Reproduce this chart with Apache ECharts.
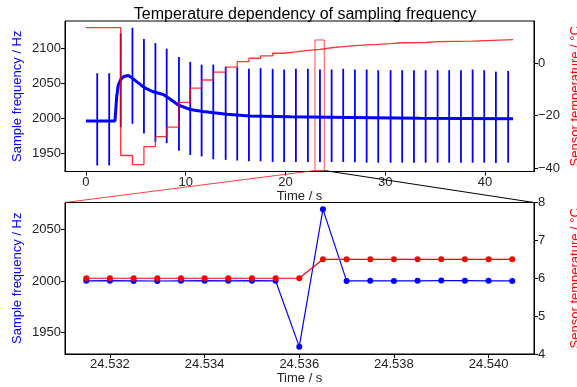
<!DOCTYPE html>
<html>
<head>
<meta charset="utf-8">
<script src="https://cdn.jsdelivr.net/npm/echarts@6/dist/echarts.min.js"></script>
<style>
  html, body { margin: 0; padding: 0; background: #fff; }
  #chart { width: 577px; height: 387px; }
</style>
</head>
<body>
<div id="chart"></div>
<script>
// ---- top panel: full run ----
const baseTimes = [0, 2.91, 3.08, 3.24, 3.51, 3.81, 4.24, 4.61, 5.08, 5.91, 6.74, 7.75, 8.42, 9.25, 10.42, 11.75, 14.1, 16.43, 20.44, 26.45, 33.47, 42.8];
const baseFreq = [1996.1, 1996, 2031, 2048, 2056, 2060, 2061.5, 2058, 2052.6, 2043.5, 2038, 2034, 2027.7, 2019, 2012.6, 2009.5, 2005.7, 2003.3, 2002, 2001, 2000, 1999.3];

const spikeTimes = [1.13, 2.33, 3.48, 4.66, 5.81, 6.96, 8.09, 9.32, 10.45, 11.59, 12.76, 14.0, 15.16, 16.33, 17.5, 18.71, 19.86, 21.04, 22.24, 23.45, 24.62, 25.78, 26.95, 28.13, 29.29, 30.53, 31.69, 32.87, 34.04, 35.24, 36.4, 37.58, 38.75, 39.91, 41.08, 42.31];
const spikeHigh = [2064.7, 2064.7, 2122, 2130, 2114, 2108, 2100, 2088, 2081, 2077, 2077, 2074, 2073, 2071, 2072, 2071, 2070, 2071, 2071, 2070, 2070, 2071, 2070, 2070, 2069, 2069, 2069, 2069, 2069, 2069, 2069, 2069, 2070, 2069, 2067, 2068];
const spikeLow = [1931.9, 1931.9, 1987, 1992, 1978, 1966, 1964, 1953, 1947, 1945, 1941, 1940, 1939, 1938, 1938, 1937, 1937, 1937, 1937, 1937, 1937, 1937, 1936.5, 1936, 1936, 1936, 1936, 1936, 1936, 1936, 1936, 1936, 1936, 1936, 1935.5, 1936];

const tempTimes = [0, 3.48, 4.66, 5.81, 6.96, 8.09, 9.32, 10.45, 11.59, 12.76, 14.0, 15.16, 16.33, 17.5, 18.71, 19.86, 21.04, 22.24, 23.45, 24.62, 25.78, 26.95, 28.13, 29.29, 30.53, 31.69, 34.04, 35.24, 38.75, 42.8];
const tempValues = [13.6, -35.2, -38.7, -31.8, -28.0, -24.4, -14.9, -9.5, -6.4, -3.4, -1.5, 0.6, 1.9, 2.8, 3.8, 4.3, 4.9, 5.3, 5.9, 6.3, 6.7, 7.0, 7.2, 7.5, 7.8, 7.9, 8.2, 8.4, 9.0, 9.0];

const boxTime = [22.95, 23.88];
const boxFreq = [1924.7, 2112.5];

const topTimeTicks = [0, 10, 20, 30, 40];
const topFreqTicks = [1950, 2000, 2050, 2100];
const topTempTicks = [-40, -20, 0];

// ---- bottom panel: zoom into one step ----
const zoomTimes = [24.5315, 24.532, 24.5325, 24.533, 24.5335, 24.534, 24.5345, 24.535, 24.5355, 24.536, 24.5365, 24.537, 24.5375, 24.538, 24.5385, 24.539, 24.5395, 24.54, 24.5405];
const zoomFreq = [2000.3, 2000.4, 2000.2, 2000.1, 2000.3, 2000.4, 2000.3, 2000.4, 2000.3, 1936.5, 2069.5, 2000.2, 2000.3, 2000.2, 2000.3, 2000.5, 2000.4, 2000.3, 2000.2];
const zoomTemp = [6, 6, 6, 6, 6, 6, 6, 6, 6, 6, 6.5, 6.5, 6.5, 6.5, 6.5, 6.5, 6.5, 6.5, 6.5];

const zoomTimeTicks = [24.532, 24.534, 24.536, 24.538, 24.540];
const zoomFreqTicks = [1950, 2000, 2050];
const zoomTempTicks = [4, 5, 6, 7, 8];

const FONT = 'Liberation Sans, Arial, sans-serif';
const BLUE = '#0000ff';
const RED = '#ff0000';
const minus = v => String(v).replace('-', '\u2212');

const chart = echarts.init(document.getElementById('chart'), null, { renderer: 'canvas' });

function axisBase(ticks, fmt) {
  return {
    nameMoveOverlap: false,
    axisLine: { show: true, onZero: false, lineStyle: { color: '#000', width: 1 } },
    axisTick: { show: true, inside: false, length: 4, lineStyle: { color: '#000' }, customValues: ticks },
    axisLabel: { color: '#222', fontSize: 13, fontFamily: FONT, margin: 4, customValues: ticks, formatter: fmt || (v => minus(v)) },
    splitLine: { show: false },
    nameTextStyle: { fontSize: 13, fontFamily: FONT }
  };
}

const option = {
  animation: false,
  backgroundColor: '#fff',
  title: {
    text: 'Temperature dependency of sampling frequency',
    left: 300, top: 2, textAlign: 'center',
    textStyle: { fontSize: 16, fontWeight: 'normal', color: '#000', fontFamily: FONT }
  },
  grid: [
    { left: 65, right: 43, top: 21, height: 150.5, show: true, borderColor: '#000', borderWidth: 1, outerBoundsMode: 'none' },
    { left: 65, right: 43, top: 202.5, height: 151.5, show: true, borderColor: '#000', borderWidth: 1, outerBoundsMode: 'none' }
  ],
  xAxis: [
    Object.assign(axisBase(topTimeTicks), {
      type: 'value', gridIndex: 0, min: -2.1, max: 44.9,
      name: 'Time / s', nameLocation: 'middle', nameGap: 18,
      nameTextStyle: { fontSize: 13, fontFamily: FONT, color: '#222' }
    }),
    Object.assign(axisBase(zoomTimeTicks, v => v.toFixed(3)), {
      type: 'value', gridIndex: 1, min: 24.53105, max: 24.54096,
      name: 'Time / s', nameLocation: 'middle', nameGap: 18,
      nameTextStyle: { fontSize: 13, fontFamily: FONT, color: '#222' }
    })
  ],
  yAxis: [
    Object.assign(axisBase(topFreqTicks), {
      type: 'value', gridIndex: 0, position: 'left', min: 1923.3, max: 2139.8,
      name: 'Sample frequency / Hz', nameLocation: 'middle', nameGap: 41, nameRotate: 90,
      nameTextStyle: { fontSize: 13, fontFamily: FONT, color: BLUE }
    }),
    Object.assign(axisBase(topTempTicks), {
      type: 'value', gridIndex: 0, position: 'right', min: -41.3, max: 16.1,
      name: 'Sensor temperature / \u00b0C', nameLocation: 'middle', nameGap: 35, nameRotate: 90,
      nameTextStyle: { fontSize: 13, fontFamily: FONT, color: RED }
    }),
    Object.assign(axisBase(zoomFreqTicks), {
      type: 'value', gridIndex: 1, position: 'left', min: 1929.4, max: 2076.1,
      name: 'Sample frequency / Hz', nameLocation: 'middle', nameGap: 41, nameRotate: 90,
      nameTextStyle: { fontSize: 13, fontFamily: FONT, color: BLUE }
    }),
    Object.assign(axisBase(zoomTempTicks), {
      type: 'value', gridIndex: 1, position: 'right', min: 4, max: 8,
      name: 'Sensor temperature / \u00b0C', nameLocation: 'middle', nameGap: 35, nameRotate: 90,
      nameTextStyle: { fontSize: 13, fontFamily: FONT, color: RED }
    })
  ],
  series: [
    {
      name: 'frequency', type: 'line', xAxisIndex: 0, yAxisIndex: 0,
      data: baseTimes.map((t, i) => [t, baseFreq[i]]),
      symbol: 'none', lineStyle: { color: BLUE, width: 3 }, z: 2,
      markArea: {
        silent: true,
        itemStyle: { color: 'transparent', borderColor: 'rgba(255,0,0,0.7)', borderWidth: 1 },
        data: [[{ coord: [boxTime[0], boxFreq[1]] }, { coord: [boxTime[1], boxFreq[0]] }]]
      }
    },
    {
      name: 'spikes', type: 'custom', xAxisIndex: 0, yAxisIndex: 0, z: 3,
      data: spikeTimes.map((t, i) => [t, spikeLow[i], spikeHigh[i]]),
      encode: { x: 0, y: [1, 2] },
      renderItem: (params, api) => {
        const p0 = api.coord([api.value(0), api.value(1)]);
        const p1 = api.coord([api.value(0), api.value(2)]);
        return {
          type: 'line',
          shape: { x1: p0[0], y1: p0[1], x2: p1[0], y2: p1[1] },
          style: { stroke: BLUE, lineWidth: 1.8 }
        };
      }
    },
    {
      name: 'temperature', type: 'line', xAxisIndex: 0, yAxisIndex: 1, step: 'end',
      data: tempTimes.map((t, i) => [t, tempValues[i]]),
      symbol: 'none', lineStyle: { color: 'rgba(255,0,0,0.8)', width: 1.3 }, z: 4
    },
    {
      name: 'frequency zoom', type: 'line', xAxisIndex: 1, yAxisIndex: 2,
      data: zoomTimes.map((t, i) => [t, zoomFreq[i]]),
      symbol: 'circle', symbolSize: 6, itemStyle: { color: BLUE },
      lineStyle: { color: BLUE, width: 1.2 }, z: 3
    },
    {
      name: 'temperature zoom', type: 'line', xAxisIndex: 1, yAxisIndex: 3,
      data: zoomTimes.map((t, i) => [t, zoomTemp[i]]),
      symbol: 'circle', symbolSize: 6, itemStyle: { color: RED },
      lineStyle: { color: RED, width: 1.2 }, z: 4
    }
  ]
};

chart.setOption(option);

// connector lines from the zoom box to the lower panel
const boxBL = chart.convertToPixel({ xAxisIndex: 0, yAxisIndex: 0 }, [boxTime[0], boxFreq[0]]);
const boxBR = chart.convertToPixel({ xAxisIndex: 0, yAxisIndex: 0 }, [boxTime[1], boxFreq[0]]);
const lowTL = chart.convertToPixel({ xAxisIndex: 1, yAxisIndex: 3 }, [24.53105, 8]);
const lowTR = chart.convertToPixel({ xAxisIndex: 1, yAxisIndex: 3 }, [24.54096, 8]);

chart.setOption({
  graphic: [
    { type: 'line', z: 100, shape: { x1: boxBL[0], y1: boxBL[1], x2: lowTL[0], y2: lowTL[1] },
      style: { stroke: 'rgba(255,0,0,0.75)', lineWidth: 1 } },
    { type: 'line', z: 100, shape: { x1: boxBR[0], y1: boxBR[1], x2: lowTR[0], y2: lowTR[1] },
      style: { stroke: '#000', lineWidth: 1 } }
  ]
});

window.addEventListener('resize', () => chart.resize());
</script>
</body>
</html>
